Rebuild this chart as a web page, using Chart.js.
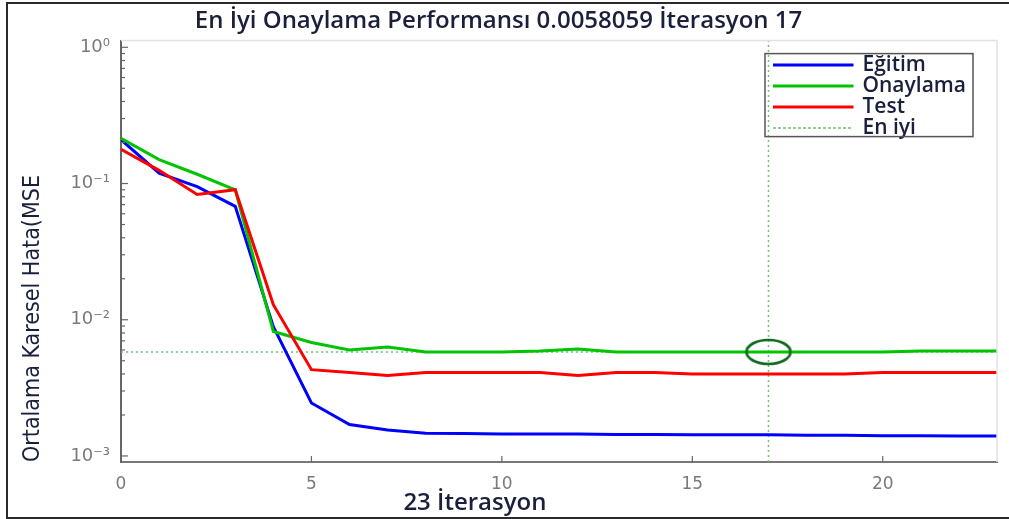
<!DOCTYPE html>
<html lang="tr">
<head>
<meta charset="utf-8"/>
<title>En İyi Onaylama Performansı</title>
<script src="https://cdn.jsdelivr.net/npm/chart.js"></script>
<style>
  body{margin:0;background:#fff;overflow:hidden}
  .wrap{position:relative;width:1009px;height:519px}
  .frame{position:absolute;left:6px;top:2px;width:1100px;height:513px;border:2px solid #2a2a2a;pointer-events:none}
</style>
</head>
<body>
<div class="wrap">
  <canvas id="perfChart" width="1009" height="519"></canvas>
  <div class="frame"></div>
</div>
<script>
// epochs and MSE per set
const epochs=[0,1,2,3,4,5,6,7,8,9,10,11,12,13,14,15,16,17,18,19,20,21,22,23];
const egitim=[0.21,0.119,0.095,0.068,0.0089,0.00245,0.0017,0.00155,0.00147,0.00146,0.00145,0.00145,0.00145,0.00144,0.00144,0.00143,0.00143,0.00143,0.00142,0.00142,0.00141,0.00141,0.0014,0.0014];
const onaylama=[0.215,0.15,0.117,0.09,0.0082,0.0068,0.006,0.0063,0.0058,0.0058,0.0058,0.0059,0.0061,0.0058,0.0058,0.0058,0.0058,0.0058059,0.0058,0.0058,0.0058,0.0059,0.0059,0.0059];
const testSet=[0.178,0.125,0.083,0.09,0.0129,0.0043,0.0041,0.0039,0.0041,0.0041,0.0041,0.0041,0.0039,0.0041,0.0041,0.004,0.004,0.004,0.004,0.004,0.0041,0.0041,0.0041,0.0041];
const bestEpoch=17;
const bestPerf=0.0058059;
const xTicks=[0,5,10,15,20];
const yRange=[0.000903,1.12];
const xRange=[0,23];

const titleText='En İyi Onaylama Performansı 0.0058059 İterasyon 17';
const yLabel='Ortalama Karesel Hata(MSE';
const xLabel='23 İterasyon';
const textColor='#1a1f3c';

const sup={'0':'⁰','1':'¹','2':'²','3':'³','4':'⁴','-':'⁻'};
const pow10Label=v=>{const e=Math.log10(v);if(Math.abs(e-Math.round(e))>1e-9)return '';return '10'+String(Math.round(e)).split('').map(c=>sup[c]).join('');};

// stretched ring used as the "best" marker
const ring=document.createElement('canvas');ring.width=50;ring.height=30;
const rc=ring.getContext('2d');rc.strokeStyle='#0f6a1c';rc.lineWidth=2.6;
rc.beginPath();rc.ellipse(25,15,22,12,0,0,2*Math.PI);rc.stroke();

const series=arr=>epochs.map((e,i)=>({x:e,y:arr[i]}));

const axesFrame={
  id:'axesFrame',
  afterLayout(chart){
    const lg=chart.legend,a=chart.chartArea;
    if(!lg)return;
    lg.left=a.right-224;lg.top=a.top+14;
    lg.right=lg.left+lg.width;lg.bottom=lg.top+200;
  },
  afterDraw(chart){
    const {ctx,chartArea:a,scales:{x:xs,y:ys}}=chart;
    ctx.save();
    // light top/right frame
    ctx.strokeStyle='#e2e2e2';ctx.lineWidth=1.5;
    ctx.beginPath();ctx.moveTo(a.left,a.top);ctx.lineTo(a.right,a.top);ctx.lineTo(a.right,a.bottom);ctx.stroke();
    // inward ticks
    ctx.strokeStyle='#666';ctx.lineWidth=1.2;
    ys.ticks.forEach(t=>{
      const v=t.value,e=Math.floor(Math.log10(v)+1e-9),m=v/Math.pow(10,e);
      if(Math.abs(m-Math.round(m))>1e-6)return;
      const py=ys.getPixelForValue(v);
      if(py<a.top-0.5||py>a.bottom+0.5)return;
      const len=Math.round(m)===1?7:4;
      ctx.beginPath();ctx.moveTo(a.left,py);ctx.lineTo(a.left+len,py);ctx.stroke();
    });
    xs.ticks.forEach(t=>{
      const px=xs.getPixelForValue(t.value);
      ctx.beginPath();ctx.moveTo(px,a.bottom);ctx.lineTo(px,a.bottom-6);ctx.stroke();
    });
    // legend box
    const lg=chart.legend;
    ctx.strokeStyle='#555';ctx.lineWidth=1.5;
    ctx.strokeRect(lg.left-8,lg.top-1,208,83);
    // x axis label
    ctx.fillStyle=textColor;ctx.font='600 24px "Open Sans"';ctx.textAlign='center';ctx.textBaseline='middle';
    ctx.fillText(xLabel,a.left+(a.right-a.left)*0.404,a.bottom+41);
    ctx.restore();
  }
};

new Chart(document.getElementById('perfChart'),{
  type:'line',
  data:{
    datasets:[
      {label:'Eğitim',data:series(egitim),borderColor:'#0000ff',backgroundColor:'transparent',borderWidth:3,pointRadius:0,order:3},
      {label:'Onaylama',data:series(onaylama),borderColor:'#00c400',backgroundColor:'transparent',borderWidth:3,pointRadius:0,order:2},
      {label:'Test',data:series(testSet),borderColor:'#ff0000',backgroundColor:'transparent',borderWidth:3,pointRadius:0,order:1},
      {label:'En iyi',data:[{x:xRange[0],y:bestPerf},{x:xRange[1],y:bestPerf}],borderColor:'#6cc46c',backgroundColor:'transparent',borderWidth:1.5,borderDash:[2,3],pointRadius:0,order:5},
      {label:'En iyi',noLegend:true,data:[{x:bestEpoch,y:yRange[0]},{x:bestEpoch,y:yRange[1]}],borderColor:'#6cc46c',backgroundColor:'transparent',borderWidth:1.5,borderDash:[2,3],pointRadius:0,order:5},
      {label:'best',noLegend:true,data:[{x:bestEpoch,y:bestPerf}],showLine:false,pointStyle:ring,pointRadius:10,order:0}
    ]
  },
  options:{
    responsive:false,
    animation:false,
    layout:{padding:{left:0,right:12,top:0,bottom:0}},
    scales:{
      x:{
        type:'linear',min:xRange[0],max:xRange[1],
        afterBuildTicks:s=>{s.ticks=xTicks.map(v=>({value:v}));},
        afterFit:s=>{s.height=57;},
        grid:{display:false,drawTicks:false},
        border:{display:true,color:'#777',width:2},
        ticks:{padding:12,color:'#7a7a7a',font:{family:'DejaVu Sans',size:17},autoSkip:false,maxRotation:0}
      },
      y:{
        type:'logarithmic',min:yRange[0],max:yRange[1],
        afterFit:s=>{s.width=121;},
        grid:{display:false,drawTicks:false},
        border:{display:true,color:'#666',width:2},
        ticks:{padding:11,color:'#7a7a7a',font:{family:'DejaVu Sans',size:18},autoSkip:false,callback:v=>pow10Label(v)},
        title:{display:true,text:yLabel,align:'start',color:textColor,padding:{top:19,bottom:0},font:{family:'"Liberation Sans Narrow","DejaVu Sans Condensed",sans-serif',size:23}}
      }
    },
    plugins:{
      title:{display:true,text:titleText,color:textColor,padding:{top:7,bottom:4.8},font:{family:'"Open Sans"',size:24,weight:'600'}},
      legend:{
        position:'chartArea',
        align:'start',
        labels:{
          boxWidth:79,boxHeight:0.01,padding:0,color:textColor,
          font:{family:'"Open Sans"',size:21,weight:'600'},
          sort:(a,b)=>a.datasetIndex-b.datasetIndex,
          filter:(item,data)=>!data.datasets[item.datasetIndex].noLegend
        }
      },
      tooltip:{enabled:false}
    }
  },
  plugins:[axesFrame]
});
</script>
</body>
</html>
